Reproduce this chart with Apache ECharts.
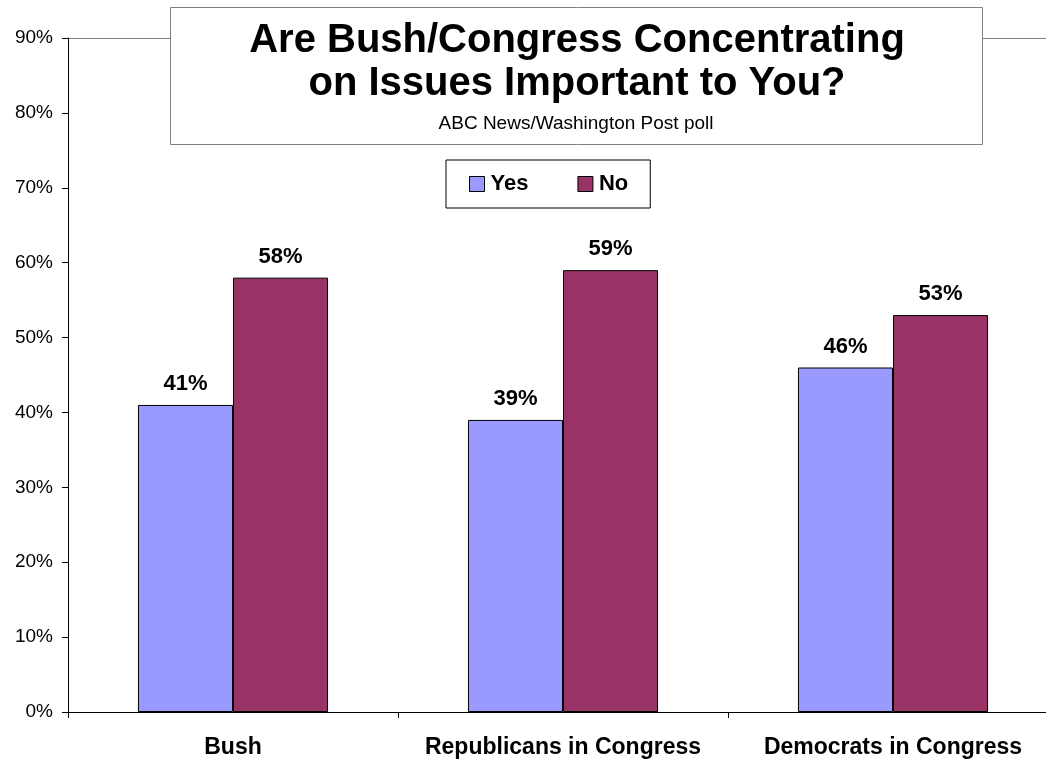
<!DOCTYPE html>
<html><head><meta charset="utf-8">
<script src="https://cdn.jsdelivr.net/npm/echarts@6/dist/echarts.min.js"></script>
<style>html,body{margin:0;padding:0;background:#fff;overflow:hidden;width:1046px;height:759px}#c{width:1070px;height:759px}</style>
</head><body><div id="c"></div>
<script>
const categories = ['Bush', 'Republicans in Congress', 'Democrats in Congress'];
const yesValues = [41, 39, 46];
const noValues = [58, 59, 53];
const seriesNames = ['Yes', 'No'];
const titleLines = ['Are Bush/Congress Concentrating', 'on Issues Important to You?'];
const subtitleText = 'ABC News/Washington Post poll';

const FONT = 'Liberation Sans, Arial, sans-serif';
const chart = echarts.init(document.getElementById('c'));
const gridColors = ['transparent','transparent','transparent','transparent','transparent','transparent','transparent','transparent','transparent','#808080'];
const labelCfg = {show: true, position: 'top', distance: 10, formatter: '{c}%', color: '#000', fontFamily: FONT, fontWeight: 'bold', fontSize: 22};
chart.setOption({
  animation: false,
  backgroundColor: '#fff',
  grid: {left: 68, right: 12, top: 38, bottom: 47, containLabel: false},
  legend: {
    data: seriesNames, left: 446, top: 160,
    padding: [13, 22, 13, 23], itemGap: 49, itemWidth: 15, itemHeight: 15,
    borderColor: '#000', borderWidth: 1, backgroundColor: '#fff',
    textStyle: {fontFamily: FONT, fontWeight: 'bold', fontSize: 22, color: '#000', padding: [0,0,0,1]},
    icon: 'rect', itemStyle: {borderColor: '#000', borderWidth: 1}
  },
  xAxis: {
    type: 'category', data: categories,
    axisLine: {lineStyle: {color: '#000', width: 1}},
    axisTick: {show: true, length: 6, inside: false, lineStyle: {color: '#000'}},
    axisLabel: {interval: 0, margin: 24, color: '#000', fontFamily: FONT, fontWeight: 'bold', fontSize: 23}
  },
  yAxis: {
    type: 'value', min: 0, max: 90, interval: 10,
    axisLine: {show: true, lineStyle: {color: '#000'}},
    axisTick: {show: true, length: 6, lineStyle: {color: '#000'}},
    axisLabel: {formatter: '{value}%', margin: 15, color: '#000', fontFamily: FONT, fontSize: 19},
    splitLine: {show: true, lineStyle: {color: gridColors, width: 1}}
  },
  series: [
    {name: seriesNames[0], type: 'bar', data: yesValues, barGap: '0%', barCategoryGap: '42.4%',
     itemStyle: {color: '#9999FF', borderColor: '#000', borderWidth: 1}, label: labelCfg},
    {name: seriesNames[1], type: 'bar', data: noValues,
     itemStyle: {color: '#993366', borderColor: '#000', borderWidth: 1}, label: labelCfg}
  ],
  graphic: [
    {type: 'rect', left: 170, top: 7, z: 100,
     shape: {width: 812, height: 137}, style: {fill: '#fff', stroke: '#808080', lineWidth: 1}},
    {type: 'text', z: 101, x: 577, y: 41,
     style: {text: titleLines[0], font: 'bold 40px ' + FONT, fill: '#000', align: 'center', verticalAlign: 'middle'}},
    {type: 'text', z: 101, x: 577, y: 84,
     style: {text: titleLines[1], font: 'bold 40px ' + FONT, fill: '#000', align: 'center', verticalAlign: 'middle'}},
    {type: 'text', z: 101, x: 576, y: 124,
     style: {text: subtitleText, font: '19px ' + FONT, fill: '#000', align: 'center', verticalAlign: 'middle'}}
  ]
});
</script></body></html>
